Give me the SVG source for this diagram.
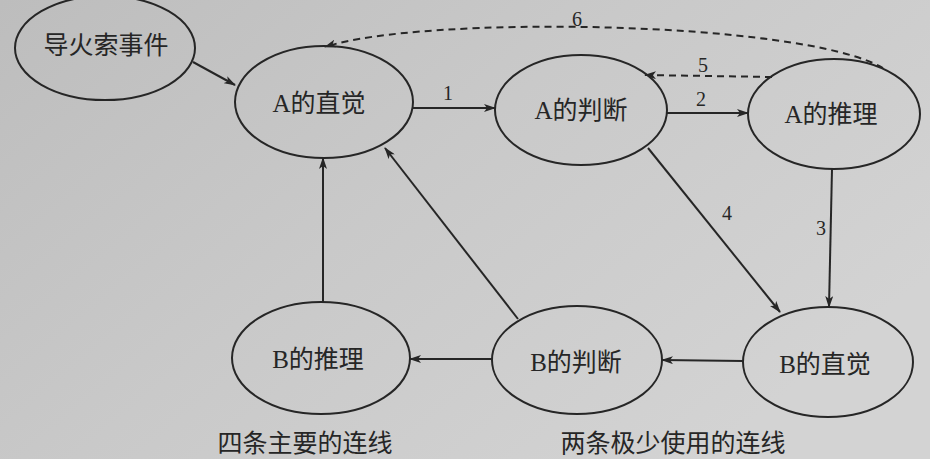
<svg xmlns="http://www.w3.org/2000/svg" width="930" height="459" viewBox="0 0 930 459">
  <defs>
    <linearGradient id="paper" x1="0" y1="0" x2="1" y2="0.6">
      <stop offset="0" stop-color="#bdbdbd"/>
      <stop offset="0.5" stop-color="#c9c9c9"/>
      <stop offset="1" stop-color="#d3d3d3"/>
    </linearGradient>
    <marker id="arr" viewBox="0 0 12 8" markerWidth="12" markerHeight="8" refX="11" refY="4" orient="auto" markerUnits="userSpaceOnUse">
      <path d="M0,0 L12,4 L0,8 L3,4 z" fill="#262626"/>
    </marker>
  </defs>
  <style>
    .node ellipse { fill: none; stroke: #262626; stroke-width: 2; }
    .node text { font-family: "Liberation Serif", "Noto Sans CJK SC", serif; font-size: 25px; fill: #262626; text-anchor: middle; dominant-baseline: central; }
    .edge { stroke: #262626; stroke-width: 2; fill: none; marker-end: url(#arr); }
    .dash { stroke-dasharray: 7 5; }
    .num { font-family: "Liberation Serif", serif; font-size: 20px; fill: #262626; text-anchor: middle; dominant-baseline: central; }
    .cap { font-family: "Noto Sans CJK SC", sans-serif; font-size: 25px; fill: #262626; text-anchor: middle; dominant-baseline: central; }
  </style>
  <rect width="930" height="459" fill="url(#paper)"/>

  <g id="connectors">
    <line class="edge" x1="193" y1="62" x2="235" y2="85"/>
    <line class="edge" x1="413" y1="108" x2="495" y2="108"/>
    <line class="edge" x1="667" y1="113" x2="748" y2="113"/>
    <line class="edge" x1="832" y1="169" x2="829" y2="307"/>
    <line class="edge" x1="648" y1="148" x2="780" y2="312"/>
    <line class="edge dash" x1="772" y1="77" x2="645" y2="75"/>
    <path class="edge dash" d="M883,68 C800,20 420,15 325,47"/>
    <line class="edge" x1="743" y1="361" x2="662" y2="360"/>
    <line class="edge" x1="492" y1="359" x2="410" y2="359"/>
    <line class="edge" x1="323" y1="302" x2="323" y2="158"/>
    <line class="edge" x1="518" y1="319" x2="385" y2="148"/>
    <text class="num" x="448" y="93">1</text>
    <text class="num" x="701" y="99">2</text>
    <text class="num" x="821" y="228">3</text>
    <text class="num" x="727" y="213">4</text>
    <text class="num" x="703" y="65">5</text>
    <text class="num" x="577" y="19">6</text>
  </g>

  <g id="trigger" class="node">
    <ellipse cx="105" cy="48" rx="90" ry="52"/>
    <text x="106" y="45">导火索事件</text>
  </g>
  <g id="a-intuition" class="node">
    <ellipse cx="324" cy="102" rx="89" ry="56"/>
    <text x="319" y="103">A的直觉</text>
  </g>
  <g id="a-judgment" class="node">
    <ellipse cx="581" cy="110" rx="86" ry="55"/>
    <text x="581" y="110">A的判断</text>
  </g>
  <g id="a-reasoning" class="node">
    <ellipse cx="834" cy="114" rx="86" ry="55"/>
    <text x="831" y="114">A的推理</text>
  </g>
  <g id="b-reasoning" class="node">
    <ellipse cx="321" cy="358" rx="89" ry="56"/>
    <text x="318" y="359">B的推理</text>
  </g>
  <g id="b-judgment" class="node">
    <ellipse cx="577" cy="360" rx="85" ry="54"/>
    <text x="576" y="362">B的判断</text>
  </g>
  <g id="b-intuition" class="node">
    <ellipse cx="828" cy="362" rx="85" ry="55"/>
    <text x="825" y="364">B的直觉</text>
  </g>

  <g id="captions">
    <text class="cap" x="305" y="441">四条主要的连线</text>
    <text class="cap" x="673" y="441">两条极少使用的连线</text>
  </g>
</svg>
